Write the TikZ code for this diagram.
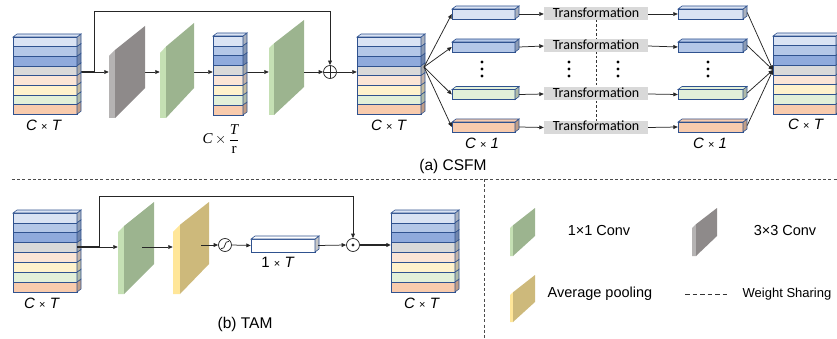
\documentclass[tikz,border=0pt]{standalone}
\usepackage{fontspec}
\setmainfont{Liberation Sans}
\newfontfamily\carlito{Carlito}
\newfontfamily\serifx{Liberation Serif}
\usetikzlibrary{arrows.meta,calc}
\pgfdeclarelayer{bg}
\pgfsetlayers{bg,main}
\definecolor{la}{HTML}{DAE3F3}
\definecolor{lb}{HTML}{B4C7E7}
\definecolor{lc}{HTML}{8FAADC}
\definecolor{ld}{HTML}{D9D9D9}
\definecolor{le}{HTML}{FBE5D6}
\definecolor{lf}{HTML}{FFF2CC}
\definecolor{lg}{HTML}{E2F0D9}
\definecolor{lh}{HTML}{F8CBAD}
\definecolor{edge}{HTML}{2F528F}
\definecolor{grmain}{HTML}{9CB48F}
\definecolor{grstrip}{HTML}{C5E0B4}
\definecolor{gymain}{HTML}{8E8A8A}
\definecolor{gystrip}{HTML}{B5B3B3}
\definecolor{ylmain}{HTML}{CDB97B}
\definecolor{ylstrip}{HTML}{FFE699}
\definecolor{trgray}{HTML}{D9D9D9}
\definecolor{lncol}{HTML}{262626}
\newcommand\tstack[5]{% name, x, top y, width, layer height
  \foreach \c [count=\i from 0] in {la,lb,lc,ld,le,lf,lg,lh}{
    \filldraw[fill=\c, draw=edge, line width=0.55pt] (#2,#3+\i*#5) rectangle ++(#4,#5);
    \filldraw[fill=\c!78!black, draw=edge, line width=0.55pt] (#2+#4,#3+\i*#5) -- ++(4,-3) -- ++(0,#5) -- ++(-4,3) -- cycle;
  }
  \filldraw[fill=la, draw=edge, line width=0.55pt] (#2,#3) -- ++(4,-3) -- ++(#4,0) -- ++(-4,3) -- cycle;
  \node[inner sep=0, minimum width=#4, minimum height=8*#5] (#1) at (#2+#4/2, #3+4*#5) {};
}
\newcommand\tbar[6]{% name, x, y center, width, height, colour
  \filldraw[fill=#6, draw=edge, line width=0.6pt] (#2,#3-#5/2) rectangle ++(#4,#5);
  \filldraw[fill=#6!78!black, draw=edge, line width=0.6pt] (#2+#4,#3-#5/2) -- ++(4,-3) -- ++(0,#5) -- ++(-4,3) -- cycle;
  \filldraw[fill=#6, draw=edge, line width=0.6pt] (#2,#3-#5/2) -- ++(4,-3) -- ++(#4,0) -- ++(-4,3) -- cycle;
  \node[inner sep=0, minimum width=#4, minimum height=#5] (#1) at (#2+#4/2,#3) {};
}
\newcommand\plate[9]{% name, x, y top-left, y bottom-left, strip, width, rise, main, strip colour
  \fill[#9] (#2,#3) -- (#2+#5,{#3-#5*#7/#6}) -- (#2+#5,#4) -- (#2,#4) -- cycle;
  \fill[#8] (#2+#5,{#3-#5*#7/#6}) -- (#2+#5+#6,#3-#7) -- (#2+#5+#6,#4-#7) -- (#2+#5,#4) -- cycle;
  \node[inner sep=0, minimum width=#5+#6, minimum height=#4-#3+#7] (#1) at (#2+#5/2+#6/2, #3/2+#4/2-#7/2) {};
}
\begin{document}
\begin{tikzpicture}[x=1pt,y=-1pt,
  ln/.style={draw=lncol, line width=0.75pt},
  arr/.style={ln, -{Triangle[length=4.5pt,width=3.8pt]}},
  lab/.style={inner sep=0, font=\fontsize{15}{15}\selectfont},
  trbox/.style={fill=trgray, inner xsep=0, inner ysep=0, minimum width=104, minimum height=13,
     text height=9.5pt, text depth=2.5pt, font=\carlito\fontsize{14}{14}\selectfont},
  sep/.style={draw=black!70, line width=0.7pt, dash pattern=on 3pt off 2.2pt},
  ttl/.style={inner sep=0, font=\fontsize{15.5}{16}\selectfont},
  leg/.style={inner sep=0, font=\fontsize{14.5}{15}\selectfont},
  dotc/.style={fill=black}]
\useasboundingbox (0,0) rectangle (837,339);
\newcommand\x{{\fontsize{11}{11}\selectfont ×}}
% ---------- (a) CSFM ----------
\tstack{s1}{13}{37}{64}{9.65}
\plate{gp}{109}{56}{118}{6}{30}{30}{gymain}{gystrip}
\plate{g1}{160}{53}{118}{6}{28}{30}{grmain}{grstrip}
\tstack{s3}{213}{36}{30}{9.875}
\plate{g2}{269}{48}{115}{5}{30}{28}{grmain}{grstrip}
\node[circle, draw=lncol, line width=0.75pt, minimum size=13, inner sep=0,
  path picture={\draw[lncol, line width=0.75pt] (path picture bounding box.north) -- (path picture bounding box.south)
  (path picture bounding box.west) -- (path picture bounding box.east);}] (sum) at (330,72) {};
\tstack{s2}{357}{37}{64}{9.65}
\tstack{s4}{773}{36}{63}{9.75}

\node[lab] at (44,125) {\textit{C} \x{} \textit{T}};
\node[inner sep=0, font=\fontsize{15}{15}\selectfont] at (221,139)
  {$\hbox{\serifx\itshape C}\,{\times}\,\displaystyle\frac{\hbox{\serifx\itshape T}}{\hbox{\serifx r}}$};
\node[lab] at (389,125) {\textit{C} \x{} \textit{T}};
\node[lab] at (806,124) {\textit{C} \x{} \textit{T}};

\coordinate (ya) at (0,72);
\coordinate (ta) at (0,11);
\coordinate (br1) at (94,72);
\begin{pgfonlayer}{bg}
\draw[ln, line width=1.3pt] (s1.east |- ya) -- (br1);
\draw[arr] (br1) -- (gp.west |- ya);
\draw[arr] (br1) -- (br1 |- ta) -| (sum.north);
\draw[arr] (gp.east |- ya) -- (g1.west |- ya);
\draw[arr] (g1.east |- ya) -- (s3.west |- ya);
\draw[arr] (s3.east |- ya) -- (g2.west |- ya);
\end{pgfonlayer}
\draw[arr] (g2.east |- ya) -- (sum.west);
\draw[arr] (sum.east) -- (s2.west |- ya);

% split into channels
\tbar{bl1}{452}{14}{63}{10}{la}
\tbar{bl2}{452}{47}{63}{10}{lb}
\tbar{bl3}{452}{94.5}{63}{10}{lg}
\tbar{bl4}{452}{127}{63}{10}{lh}
\tbar{br1b}{678}{14}{65}{10}{la}
\tbar{br2b}{678}{47}{65}{10}{lb}
\tbar{br3b}{678}{94.5}{65}{10}{lg}
\tbar{br4b}{678}{127}{65}{10}{lh}
\node[lab] at (482,143) {\textit{C} \x{} \textit{1}};
\node[lab] at (710,143) {\textit{C} \x{} \textit{1}};

\coordinate (fo) at (424,67);
\coordinate (fi) at (773,70);
\foreach \b in {bl1,bl2,bl3,bl4} \draw[arr] (fo) -- (\b.west);
\foreach \b in {br1b,br2b,br3b,br4b} \draw[arr] ([xshift=4pt,yshift=1.5pt]\b.east) -- (fi);

\begin{pgfonlayer}{bg}
\draw[draw=black!80, line width=0.7pt, dash pattern=on 2.5pt off 2pt] (596,20) -- (596,121);
\end{pgfonlayer}
\node[trbox] (t1) at (596,14) {Transformation};
\node[trbox] (t2) at (596,46) {Transformation};
\node[trbox] (t3) at (596,94) {Transformation};
\node[trbox] (t4) at (596,127.5) {Transformation};
\foreach \i/\l/\r in {1/bl1/br1b,2/bl2/br2b,3/bl3/br3b,4/bl4/br4b}{
  \draw[arr] ([xshift=4pt]\l.east) -- (t\i.west);
  \draw[arr] (t\i.east) -- (\r.west);
}
\foreach \xx in {482,569,618,708}{
  \foreach \yy in {62,69,76} \fill[dotc] (\xx,\yy) circle (1.7pt);
}
\node[ttl] at (453,166) {(a) CSFM};

% ---------- separators ----------
\draw[sep] (12,179) -- (837,179);
\draw[sep] (484,179) -- (484,339);

% ---------- (b) TAM ----------
\tstack{b1}{13}{213}{64}{9.875}
\plate{bgp}{118}{232}{294}{6}{30}{30}{grmain}{grstrip}
\plate{byp}{173}{232}{294}{7}{29}{30}{ylmain}{ylstrip}
\node[circle, draw=lncol, line width=0.75pt, minimum size=13, inner sep=0,
  path picture={\draw[lncol, line width=0.75pt] ($(path picture bounding box.center)+(-3.8,3.6)$)
   .. controls ($(path picture bounding box.center)+(1.2,4.8)$) and ($(path picture bounding box.center)+(-1.2,-4.8)$) ..
   ($(path picture bounding box.center)+(3.8,-3.6)$);}] (sig) at (225,245) {};
\tbar{bt}{251}{245.5}{64}{13}{white}
\node[circle, draw=lncol, line width=0.75pt, minimum size=13, inner sep=0] (dot) at (353,245) {};
\fill[lncol] (dot.center) circle (1.6pt);
\tstack{b2}{391}{213}{64}{9.875}
\node[lab] at (42,303) {\textit{C} \x{} \textit{T}};
\node[lab] at (422,303) {\textit{C} \x{} \textit{T}};
\node[lab] at (278,262) {1 \x{} \textit{T}};

\coordinate (yb) at (0,247);
\coordinate (yc) at (0,245);
\coordinate (tb) at (0,196);
\coordinate (br2) at (99,247);
\coordinate (gmid) at (142,247);
\coordinate (ymid) at (201,245);
\draw[ln, line width=1.3pt] (b1.east |- yb) -- (br2);
\draw[arr] (br2) -- (bgp.west |- yb);
\draw[arr] (br2) -- (br2 |- tb) -| (dot.north);
\draw[arr] (gmid) -- (byp.west |- yb);
\draw[arr] (ymid) -- (sig.west);
\draw[arr] (sig.east) -- (bt.west);
\draw[arr] ([xshift=3pt]bt.east) -- (dot.west);
\draw[arr, line width=1.2pt] (dot.east) -- (b2.west |- yc);
\node[ttl] at (245,324) {(b) TAM};

% ---------- legend ----------
\plate{lgg}{510}{228}{256}{3}{22}{20}{grmain}{grstrip}
\plate{lgy}{692}{228}{256}{4}{21}{20}{gymain}{gystrip}
\plate{lgp}{510}{295}{322}{3}{22}{20}{ylmain}{ylstrip}
\node[leg] at (599,231) {1×1 Conv};
\node[leg] at (785,231) {3×3 Conv};
\node[leg] at (600,294) {Average pooling};
\coordinate (ws1) at (685,294);
\coordinate (ws2) at (730,294);
\draw[draw=black!80, line width=0.8pt, dash pattern=on 4.5pt off 3pt] (ws1) -- (ws2);
\node[inner sep=0, font=\fontsize{13}{13}\selectfont] at (787,294) {Weight Sharing};
\end{tikzpicture}
\end{document}
